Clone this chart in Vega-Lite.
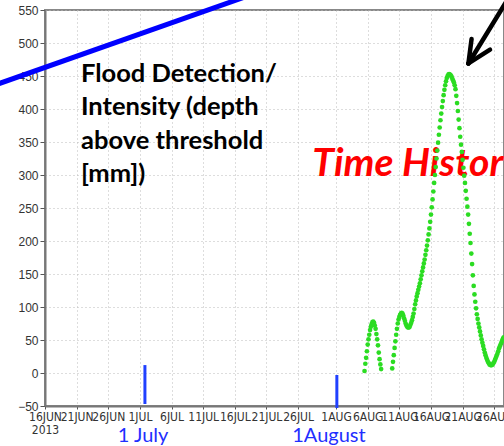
{
  "$schema": "https://vega.github.io/schema/vega-lite/v6.json",
  "width": 459,
  "height": 396,
  "autosize": {"type": "none"},
  "padding": {"left": 45, "top": 10, "right": 0, "bottom": 40},
  "background": "white",
  "config": {"view": {"stroke": "#888", "strokeWidth": 2}},
  "datasets": {
    "flow": [
      {"t":"2013-08-05T12:00","v":3},{"t":"2013-08-05T15:00","v":14},{"t":"2013-08-05T18:00","v":23},{"t":"2013-08-05T21:00","v":33},
      {"t":"2013-08-06T00:00","v":43},{"t":"2013-08-06T03:00","v":51},{"t":"2013-08-06T06:00","v":58},{"t":"2013-08-06T09:00","v":65},
      {"t":"2013-08-06T12:00","v":70},{"t":"2013-08-06T15:00","v":74},{"t":"2013-08-06T18:00","v":77},{"t":"2013-08-06T21:00","v":78},
      {"t":"2013-08-07T00:00","v":76},{"t":"2013-08-07T03:00","v":72},{"t":"2013-08-07T06:00","v":67},{"t":"2013-08-07T09:00","v":59},
      {"t":"2013-08-07T12:00","v":51},{"t":"2013-08-07T15:00","v":42},{"t":"2013-08-07T18:00","v":31},{"t":"2013-08-07T21:00","v":21},
      {"t":"2013-08-08T00:00","v":13},{"t":"2013-08-08T03:00","v":6},
      {"t":"2013-08-09T21:00","v":7},
      {"t":"2013-08-10T00:00","v":17},{"t":"2013-08-10T03:00","v":27},{"t":"2013-08-10T06:00","v":38},{"t":"2013-08-10T09:00","v":48},
      {"t":"2013-08-10T12:00","v":58},{"t":"2013-08-10T15:00","v":67},{"t":"2013-08-10T18:00","v":75},{"t":"2013-08-10T21:00","v":81},
      {"t":"2013-08-11T00:00","v":85},{"t":"2013-08-11T03:00","v":88},{"t":"2013-08-11T06:00","v":90},{"t":"2013-08-11T09:00","v":91},
      {"t":"2013-08-11T12:00","v":90},{"t":"2013-08-11T15:00","v":87},{"t":"2013-08-11T18:00","v":83},{"t":"2013-08-11T21:00","v":79},
      {"t":"2013-08-12T00:00","v":75},{"t":"2013-08-12T03:00","v":72},{"t":"2013-08-12T06:00","v":70},{"t":"2013-08-12T09:00","v":69},
      {"t":"2013-08-12T12:00","v":69},{"t":"2013-08-12T15:00","v":70},{"t":"2013-08-12T18:00","v":73},{"t":"2013-08-12T21:00","v":76},
      {"t":"2013-08-13T00:00","v":80},{"t":"2013-08-13T03:00","v":85},{"t":"2013-08-13T06:00","v":90},{"t":"2013-08-13T09:00","v":97},
      {"t":"2013-08-13T12:00","v":104},{"t":"2013-08-13T15:00","v":110},{"t":"2013-08-13T18:00","v":116},{"t":"2013-08-13T21:00","v":121},
      {"t":"2013-08-14T00:00","v":126},{"t":"2013-08-14T03:00","v":131},{"t":"2013-08-14T06:00","v":136},{"t":"2013-08-14T09:00","v":142},
      {"t":"2013-08-14T12:00","v":148},{"t":"2013-08-14T15:00","v":154},{"t":"2013-08-14T18:00","v":160},{"t":"2013-08-14T21:00","v":166},
      {"t":"2013-08-15T00:00","v":172},{"t":"2013-08-15T03:00","v":179},{"t":"2013-08-15T06:00","v":186},{"t":"2013-08-15T09:00","v":193},
      {"t":"2013-08-15T12:00","v":201},{"t":"2013-08-15T15:00","v":210},{"t":"2013-08-15T18:00","v":219},{"t":"2013-08-15T21:00","v":229},
      {"t":"2013-08-16T00:00","v":240},{"t":"2013-08-16T03:00","v":251},{"t":"2013-08-16T06:00","v":263},{"t":"2013-08-16T09:00","v":275},
      {"t":"2013-08-16T12:00","v":288},{"t":"2013-08-16T15:00","v":300},{"t":"2013-08-16T18:00","v":312},{"t":"2013-08-16T21:00","v":325},
      {"t":"2013-08-17T00:00","v":337},{"t":"2013-08-17T03:00","v":349},{"t":"2013-08-17T06:00","v":361},{"t":"2013-08-17T09:00","v":372},
      {"t":"2013-08-17T12:00","v":383},{"t":"2013-08-17T15:00","v":393},{"t":"2013-08-17T18:00","v":403},{"t":"2013-08-17T21:00","v":412},
      {"t":"2013-08-18T00:00","v":421},{"t":"2013-08-18T03:00","v":429},{"t":"2013-08-18T06:00","v":436},{"t":"2013-08-18T09:00","v":442},
      {"t":"2013-08-18T12:00","v":447},{"t":"2013-08-18T15:00","v":450},{"t":"2013-08-18T18:00","v":452},{"t":"2013-08-18T21:00","v":453},
      {"t":"2013-08-19T00:00","v":452},{"t":"2013-08-19T03:00","v":451},{"t":"2013-08-19T06:00","v":449},{"t":"2013-08-19T09:00","v":446},
      {"t":"2013-08-19T12:00","v":443},{"t":"2013-08-19T15:00","v":440},{"t":"2013-08-19T18:00","v":436},{"t":"2013-08-19T21:00","v":430},
      {"t":"2013-08-20T00:00","v":420},{"t":"2013-08-20T03:00","v":409},{"t":"2013-08-20T06:00","v":397},{"t":"2013-08-20T09:00","v":384},
      {"t":"2013-08-20T12:00","v":371},{"t":"2013-08-20T15:00","v":358},{"t":"2013-08-20T18:00","v":346},{"t":"2013-08-20T21:00","v":335},
      {"t":"2013-08-21T00:00","v":323},{"t":"2013-08-21T03:00","v":311},{"t":"2013-08-21T06:00","v":299},{"t":"2013-08-21T09:00","v":288},
      {"t":"2013-08-21T12:00","v":276},{"t":"2013-08-21T15:00","v":264},{"t":"2013-08-21T18:00","v":252},{"t":"2013-08-21T21:00","v":240},
      {"t":"2013-08-22T00:00","v":226},{"t":"2013-08-22T03:00","v":211},{"t":"2013-08-22T06:00","v":197},{"t":"2013-08-22T09:00","v":181},
      {"t":"2013-08-22T12:00","v":165},{"t":"2013-08-22T15:00","v":148},{"t":"2013-08-22T18:00","v":132},{"t":"2013-08-22T21:00","v":119},
      {"t":"2013-08-23T00:00","v":108},{"t":"2013-08-23T03:00","v":98},{"t":"2013-08-23T06:00","v":89},{"t":"2013-08-23T09:00","v":82},
      {"t":"2013-08-23T12:00","v":75},{"t":"2013-08-23T15:00","v":69},{"t":"2013-08-23T18:00","v":63},{"t":"2013-08-23T21:00","v":57},
      {"t":"2013-08-24T00:00","v":51},{"t":"2013-08-24T03:00","v":46},{"t":"2013-08-24T06:00","v":41},{"t":"2013-08-24T09:00","v":36},
      {"t":"2013-08-24T12:00","v":31},{"t":"2013-08-24T15:00","v":27},{"t":"2013-08-24T18:00","v":23},{"t":"2013-08-24T21:00","v":20},
      {"t":"2013-08-25T00:00","v":17},{"t":"2013-08-25T03:00","v":15},{"t":"2013-08-25T06:00","v":13},{"t":"2013-08-25T09:00","v":12},
      {"t":"2013-08-25T12:00","v":12},{"t":"2013-08-25T15:00","v":12},{"t":"2013-08-25T18:00","v":13},{"t":"2013-08-25T21:00","v":15},
      {"t":"2013-08-26T00:00","v":17},{"t":"2013-08-26T03:00","v":20},{"t":"2013-08-26T06:00","v":23},{"t":"2013-08-26T09:00","v":26},
      {"t":"2013-08-26T12:00","v":29},{"t":"2013-08-26T15:00","v":33},{"t":"2013-08-26T18:00","v":37},{"t":"2013-08-26T21:00","v":40},
      {"t":"2013-08-27T00:00","v":43},{"t":"2013-08-27T03:00","v":46},{"t":"2013-08-27T06:00","v":49},{"t":"2013-08-27T09:00","v":52},
      {"t":"2013-08-27T12:00","v":54}
    ],
    "blue": [{"t":"2013-06-08T00:00","v":436},{"t":"2013-07-23T00:00","v":588}],
    "arrow": [
      {"p":"shaft","t":"2013-08-28T12:00","v":572},{"p":"shaft","t":"2013-08-21T22:00","v":469},
      {"p":"a1","t":"2013-08-22T10:00","v":506},{"p":"a1","t":"2013-08-21T22:00","v":469},
      {"p":"a2","t":"2013-08-25T08:00","v":490},{"p":"a2","t":"2013-08-21T22:00","v":469}
    ],
    "bars": [{"t":"2013-07-01T19:00","v":12,"v2":-47},{"t":"2013-08-01T03:00","v":-3,"v2":-53}],
    "flood": [{"t":"2013-06-21T16:30","v":441,"s":"Flood Detection/\nIntensity (depth\nabove threshold\n[mm])"}],
    "red": [{"t":"2013-07-28T06:00","v":298,"s":"Time History"}],
    "dates": [{"t":"2013-07-01T12:00","v":-104,"s":"1 July"},{"t":"2013-07-30T21:00","v":-104,"s":"1August"}]
  },
  "encoding": {
    "x": {
      "field": "t", "type": "temporal",
      "scale": {"domain": [{"year":2013,"month":6,"date":16},{"year":2013,"month":8,"date":27,"hours":13}]},
      "axis": {
        "title": null,
        "values": [
          {"year":2013,"month":6,"date":16},{"year":2013,"month":6,"date":21},{"year":2013,"month":6,"date":26},
          {"year":2013,"month":7,"date":1},{"year":2013,"month":7,"date":6},{"year":2013,"month":7,"date":11},
          {"year":2013,"month":7,"date":16},{"year":2013,"month":7,"date":21},{"year":2013,"month":7,"date":26},
          {"year":2013,"month":8,"date":1},{"year":2013,"month":8,"date":6},{"year":2013,"month":8,"date":11},
          {"year":2013,"month":8,"date":16},{"year":2013,"month":8,"date":21},{"year":2013,"month":8,"date":26}
        ],
        "labelExpr": "timeFormat(datum.value,'%d%m')=='1606' ? [upper(timeFormat(datum.value,'%-d%b')),'2013'] : upper(timeFormat(datum.value,'%-d%b'))",
        "labelFont": "Liberation Sans Narrow, DejaVu Sans Condensed, sans-serif",
        "labelFontSize": 12,
        "labelColor": "#333",
        "labelOverlap": false,
        "labelFlush": false,
        "labelPadding": 2,
        "labelLineHeight": 13,
        "tickSize": 3,
        "tickColor": "#555",
        "domainColor": "#777",
        "domainWidth": 2,
        "grid": true,
        "gridColor": "#bbb",
        "gridDash": [1, 3]
      }
    },
    "y": {
      "field": "v", "type": "quantitative",
      "scale": {"domain": [-50, 550], "nice": false, "zero": false},
      "axis": {
        "title": null,
        "values": [-50,0,50,100,150,200,250,300,350,400,450,500,550],
        "labelFont": "Liberation Sans, sans-serif",
        "labelFontSize": 12,
        "labelColor": "#333",
        "labelPadding": 2,
        "tickSize": 5,
        "tickColor": "#555",
        "domainColor": "#777",
        "domainWidth": 2,
        "grid": true,
        "gridColor": "#bbb",
        "gridDash": [1, 3]
      }
    }
  },
  "layer": [
    {
      "data": {"name": "red"},
      "mark": {"type": "text", "align": "left", "baseline": "alphabetic", "font": "Lato", "fontWeight": "bold", "fontStyle": "italic", "fontSize": 39, "color": "#ff0000", "clip": false},
      "encoding": {"text": {"field": "s"}}
    },
    {
      "data": {"name": "flow"},
      "mark": {"type": "point", "filled": true, "size": 22, "color": "#2bdc22", "opacity": 1}
    },
    {
      "data": {"name": "blue"},
      "mark": {"type": "line", "color": "#0000ff", "strokeWidth": 5, "clip": false}
    },
    {
      "data": {"name": "arrow"},
      "mark": {"type": "line", "color": "#000000", "strokeWidth": 4.5, "strokeCap": "round", "clip": false},
      "encoding": {"detail": {"field": "p"}}
    },
    {
      "data": {"name": "bars"},
      "mark": {"type": "rule", "color": "#2040ff", "strokeWidth": 3, "clip": false},
      "encoding": {"y2": {"field": "v2"}}
    },
    {
      "data": {"name": "flood"},
      "mark": {"type": "text", "align": "left", "baseline": "alphabetic", "font": "Lato", "fontWeight": "bold", "fontSize": 25.5, "lineBreak": "\n", "lineHeight": 33.5, "color": "#000", "clip": false},
      "encoding": {"text": {"field": "s"}}
    },
    {
      "data": {"name": "dates"},
      "mark": {"type": "text", "align": "center", "baseline": "alphabetic", "font": "Lato", "fontSize": 20, "color": "#1f2fff", "clip": false},
      "encoding": {"text": {"field": "s"}}
    }
  ]
}
